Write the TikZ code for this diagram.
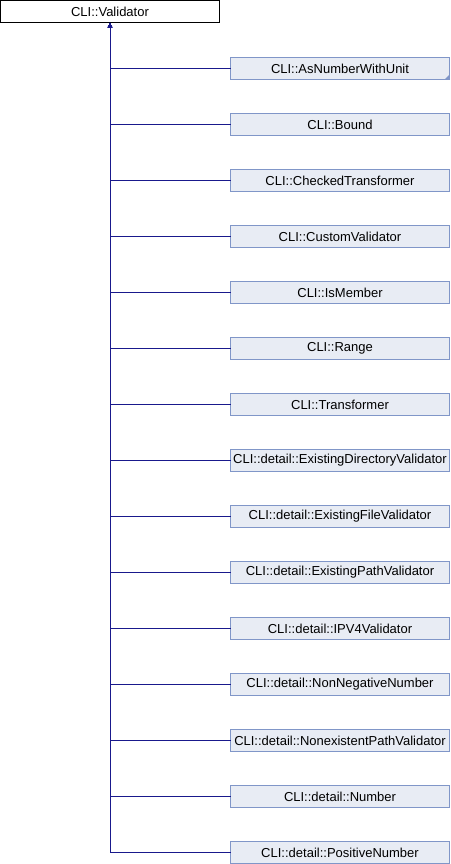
\documentclass[tikz,border=0pt]{standalone}
\usepackage{fontspec}
\setmainfont{Liberation Sans}
\usetikzlibrary{positioning,arrows.meta}
\definecolor{edgeblue}{RGB}{25,25,140}
\definecolor{boxline}{RGB}{128,150,200}
\definecolor{boxfill}{RGB}{232,236,244}
\begin{document}
\begin{tikzpicture}[
            x=1pt, y=-1pt,
            node distance=34pt,
            every node/.style = {shape=rectangle, inner sep=0pt, outer sep=0pt, font=\fontsize{13}{15}\selectfont},
            base/.style = {draw=black, fill=white, minimum width=219pt, minimum height=22pt},
            derived/.style = {draw=boxline, fill=boxfill, minimum width=219pt, minimum height=22pt},
            inherit/.style = {draw=edgeblue, line width=1pt, -{Latex[length=5pt,width=5pt]}}
        ]
        \useasboundingbox (0,0) rectangle (450,864);

        \node[base] (validator) at (110,11.5) {CLI::Validator};

        \node[derived] (asnumber) at (340,68.5) {CLI::AsNumberWithUnit};
        \node[derived, below=of asnumber] (bound) {CLI::Bound};
        \node[derived, below=of bound] (checked) {CLI::CheckedTransformer};
        \node[derived, below=of checked] (custom) {CLI::CustomValidator};
        \node[derived, below=of custom] (ismember) {CLI::IsMember};
        \node[derived, below=of ismember] (range) {CLI::Range};
        \node[derived, below=of range] (transformer) {CLI::Transformer};
        \node[derived, below=of transformer] (existdir) {CLI::detail::ExistingDirectoryValidator};
        \node[derived, below=of existdir] (existfile) {CLI::detail::ExistingFileValidator};
        \node[derived, below=of existfile] (existpath) {CLI::detail::ExistingPathValidator};
        \node[derived, below=of existpath] (ipv4) {CLI::detail::IPV4Validator};
        \node[derived, below=of ipv4] (nonneg) {CLI::detail::NonNegativeNumber};
        \node[derived, below=of nonneg] (nonexist) {CLI::detail::NonexistentPathValidator};
        \node[derived, below=of nonexist] (number) {CLI::detail::Number};
        \node[derived, below=of number] (positive) {CLI::detail::PositiveNumber};

        % truncated marker
        \fill[boxline] (asnumber.south east) -- ++(0,-5) -- ++(-5,5) -- cycle;

        % inheritance
        \draw[inherit] (asnumber.west) -| (validator.south);
        \draw[inherit] (bound.west) -| (validator.south);
        \draw[inherit] (checked.west) -| (validator.south);
        \draw[inherit] (custom.west) -| (validator.south);
        \draw[inherit] (ismember.west) -| (validator.south);
        \draw[inherit] (range.west) -| (validator.south);
        \draw[inherit] (transformer.west) -| (validator.south);
        \draw[inherit] (existdir.west) -| (validator.south);
        \draw[inherit] (existfile.west) -| (validator.south);
        \draw[inherit] (existpath.west) -| (validator.south);
        \draw[inherit] (ipv4.west) -| (validator.south);
        \draw[inherit] (nonneg.west) -| (validator.south);
        \draw[inherit] (nonexist.west) -| (validator.south);
        \draw[inherit] (number.west) -| (validator.south);
        \draw[inherit] (positive.west) -| (validator.south);
    \end{tikzpicture}
\end{document}
